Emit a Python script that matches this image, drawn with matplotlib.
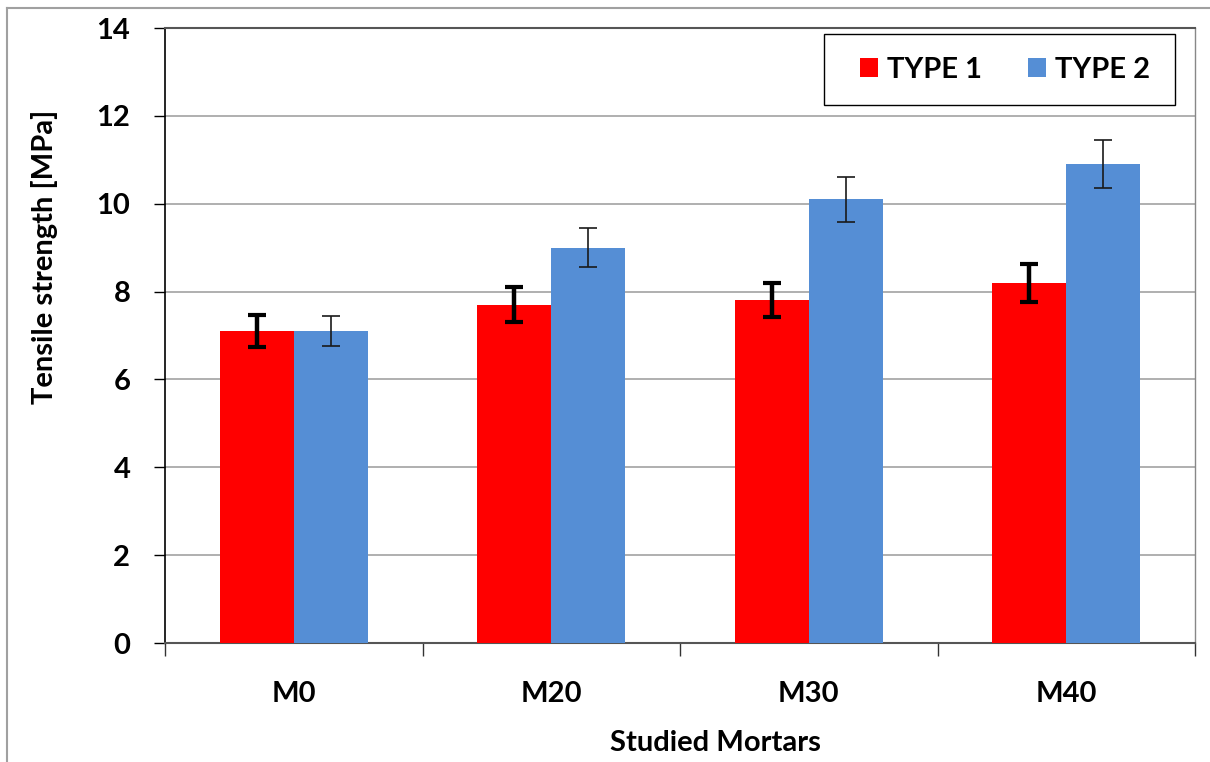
import matplotlib
matplotlib.use("Agg")
import matplotlib.pyplot as plt
from matplotlib.lines import Line2D
from matplotlib.patches import Rectangle
import numpy as np

plt.rcParams['font.family'] = ['Lato', 'DejaVu Sans']
plt.rcParams['font.weight'] = 'bold'

# Tensile strength data (MPa)
mortars = ["M0", "M20", "M30", "M40"]
type1 = [7.1, 7.7, 7.8, 8.2]
type1_err = [0.36, 0.40, 0.39, 0.43]
type2 = [7.1, 9.0, 10.1, 10.9]
type2_err = [0.35, 0.44, 0.51, 0.54]
series_names = ["TYPE 1", "TYPE 2"]
y_ticks = [0, 2, 4, 6, 8, 10, 12, 14]

W, H = 1210, 762
FS = 21
fig = plt.figure(figsize=(W / 100, H / 100), dpi=100)
ax = fig.add_axes([165 / W, 1 - 643 / H, (1195 - 165) / W, (643 - 28) / H])

x = np.arange(len(mortars))
bw = 0.287
red = "#FF0000"
blue = "#558ED5"

b1 = ax.bar(x - bw / 2, type1, bw, color=red, label=series_names[0], zorder=3)
b2 = ax.bar(x + bw / 2, type2, bw, color=blue, label=series_names[1], zorder=3)
ax.errorbar(x - bw / 2, type1, yerr=type1_err, fmt="none", ecolor="black",
            elinewidth=3.2, capsize=6.5, capthick=3.0, zorder=4)
ax.errorbar(x + bw / 2, type2, yerr=type2_err, fmt="none", ecolor="#1a1a1a",
            elinewidth=1.2, capsize=6.5, capthick=1.2, zorder=4)

ax.set_xlim(-0.5, len(mortars) - 0.5)
ax.set_ylim(0, 14)
ax.set_yticks(y_ticks)
ax.set_yticklabels([str(v) for v in y_ticks])
ax.yaxis.grid(True, color="#9a9a9a", linewidth=1.1, zorder=0)
ax.set_axisbelow(True)

# category labels centred between boundary ticks
ax.set_xticks(x)
ax.set_xticklabels(mortars)
ax.set_xticks(np.arange(len(mortars) + 1) - 0.5, minor=True)
ax.tick_params(axis="x", which="major", length=0, pad=27, labelsize=FS)
ax.tick_params(axis="x", which="minor", length=9, width=1, direction="out", color="#333333")
ax.tick_params(axis="y", length=8, width=1, direction="out", pad=17, labelsize=FS)

ax.spines["left"].set_color("black")
ax.spines["left"].set_linewidth(1.2)
ax.spines["bottom"].set_color("#555555")
ax.spines["bottom"].set_linewidth(1.5)
ax.spines["top"].set_color("#555555")
ax.spines["top"].set_linewidth(1.5)
ax.spines["right"].set_color("#888888")
ax.spines["right"].set_linewidth(1.0)

fig.text(715 / W, 1 - 743 / H, "Studied Mortars",
         ha="center", va="center", fontsize=FS, fontweight="bold")
fig.text(45 / W, 1 - 257 / H, "Tensile strength [MPa]", rotation=90,
         ha="center", va="center", fontsize=FS, fontweight="bold")

# legend box with its entries centred inside
fig.add_artist(Rectangle((824 / W, 1 - 105 / H), (1175 - 824) / W, (105 - 34) / H,
                         transform=fig.transFigure, facecolor="white",
                         edgecolor="black", linewidth=1.0, zorder=5))
leg = fig.legend([b1, b2], series_names, loc="center",
                 bbox_to_anchor=(1005 / W, 1 - 70 / H),
                 bbox_transform=fig.transFigure, ncol=2, frameon=False,
                 fontsize=FS, handlelength=0.62, handleheight=0.62,
                 handletextpad=0.32, columnspacing=1.55, borderpad=0,
                 borderaxespad=0)
leg.set_zorder(6)
for t in leg.get_texts():
    t.set_fontweight("bold")

# outer chart frame
fig.add_artist(Line2D([7 / W, 1], [1 - 8 / H, 1 - 8 / H], transform=fig.transFigure,
                      color="#a0a0a0", linewidth=1.5))
fig.add_artist(Line2D([7 / W, 7 / W], [0, 1 - 8 / H], transform=fig.transFigure,
                      color="#a0a0a0", linewidth=1.5))

fig.savefig("out.png", dpi=100)
